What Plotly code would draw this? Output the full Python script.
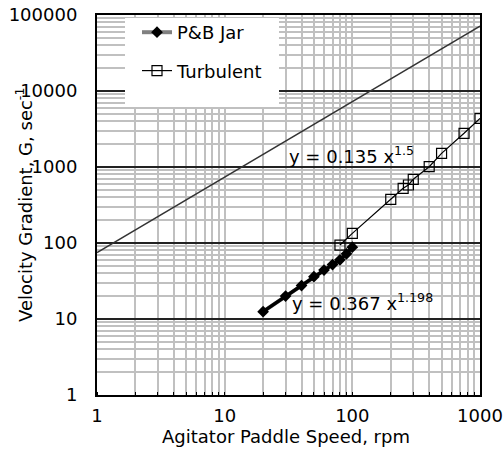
import plotly.graph_objects as go

# P&B Jar data (rpm, G)
pb_rpm = [20, 30, 40, 50, 60, 70, 80, 90, 100]
pb_g = [12.5, 20, 27.5, 36, 44, 52, 60, 72, 88]

# Turbulent data (rpm, G)
turb_rpm = [80, 100, 200, 250, 275, 300, 400, 500, 750, 1000]
turb_g = [94, 134, 376, 524, 580, 689, 1009, 1514, 2775, 4370]

# Upper reference line
ref_rpm = [1, 1000]
ref_g = [75, 71600]

eq_turb = "y = 0.135 x<sup>1.5</sup>"
eq_pb = "y = 0.367 x<sup>1.198</sup>"

FONT = "DejaVu Sans"

fig = go.Figure()
fig.add_trace(go.Scatter(x=ref_rpm, y=ref_g, mode="lines",
                         line=dict(color="#333333", width=1.5), showlegend=False))
fig.add_trace(go.Scatter(x=pb_rpm, y=pb_g, mode="lines+markers", name="P&B Jar",
                         legendgroup="a",
                         line=dict(color="#808080", width=4),
                         marker=dict(symbol="diamond", size=9, color="black")))
fig.add_trace(go.Scatter(x=pb_rpm, y=pb_g, mode="lines", showlegend=False,
                         line=dict(color="black", width=3.5)))
fig.add_trace(go.Scatter(x=turb_rpm, y=turb_g, mode="lines+markers", name="Turbulent",
                         legendgroup="b",
                         line=dict(color="black", width=1.2),
                         marker=dict(symbol="square-open", size=10, color="black",
                                     line=dict(width=1.2))))

L, R, T, B = 97, 24, 15, 62
W, H = 504, 457
pw, ph = W - L - R, H - T - B

fig.update_layout(
    width=W, height=H,
    margin=dict(l=L, r=R, t=T, b=B, pad=0, autoexpand=False),
    paper_bgcolor="white", plot_bgcolor="white",
    font=dict(family=FONT, size=18, color="black"),
    showlegend=True,
    legend=dict(x=(137 - L) / pw, y=1.0 + 1 / ph, xanchor="left", yanchor="top",
                bgcolor="rgba(0,0,0,0)", traceorder="grouped", tracegroupgap=12,
                font=dict(family=FONT, size=18)),
    xaxis=dict(type="log", range=[0, 3], dtick=1, automargin=False,
               showgrid=True, gridcolor="#c0c0c0", gridwidth=1.5,
               minor=dict(dtick="D1", showgrid=True, gridcolor="#c0c0c0", gridwidth=1.5,
                          ticks="inside", ticklen=3, tickcolor="black"),
               ticks="outside", ticklen=3, tickcolor="rgba(0,0,0,0)",
               showline=True, linecolor="black", linewidth=2, mirror=True,
               zeroline=False),
    yaxis=dict(type="log", range=[0, 5], dtick=1, automargin=False,
               showgrid=True, gridcolor="#222222", gridwidth=1.5,
               minor=dict(dtick="D1", showgrid=True, gridcolor="#c0c0c0", gridwidth=1.5),
               ticks="outside", ticklen=14, tickcolor="rgba(0,0,0,0)", tickformat="d",
               showline=True, linecolor="black", linewidth=2, mirror=True,
               zeroline=False),
    shapes=[dict(type="rect", xref="paper", yref="paper",
                 x0=(125 - L) / pw, x1=(279 - L) / pw, y0=(395 - 107) / ph, y1=1 - 3 / ph,
                 fillcolor="white", line=dict(width=0), layer="above")],
    annotations=[
        dict(text="Agitator Paddle Speed, rpm", xref="paper", yref="paper",
             x=(286 - L) / pw, y=-(436 - 395) / ph, xanchor="center", yanchor="middle",
             showarrow=False, font=dict(size=18)),
        dict(text="Velocity Gradient, G, sec<sup>-1</sup>", xref="paper", yref="paper",
             x=-(L - 24) / pw, y=0.5, xanchor="center", yanchor="middle", textangle=-90,
             showarrow=False, font=dict(size=18)),
        dict(text=eq_turb, xref="paper", yref="paper",
             x=(287 - L) / pw, y=(395 - 155) / ph, xanchor="left", yanchor="middle",
             showarrow=False, font=dict(size=18)),
        dict(text=eq_pb, xref="paper", yref="paper",
             x=(290 - L) / pw, y=(395 - 302) / ph, xanchor="left", yanchor="middle",
             showarrow=False, font=dict(size=18)),
    ],
)

fig.write_html("out.html", config={"displayModeBar": False},
               post_script="document.body.style.margin='0';document.body.style.overflow='hidden';")
